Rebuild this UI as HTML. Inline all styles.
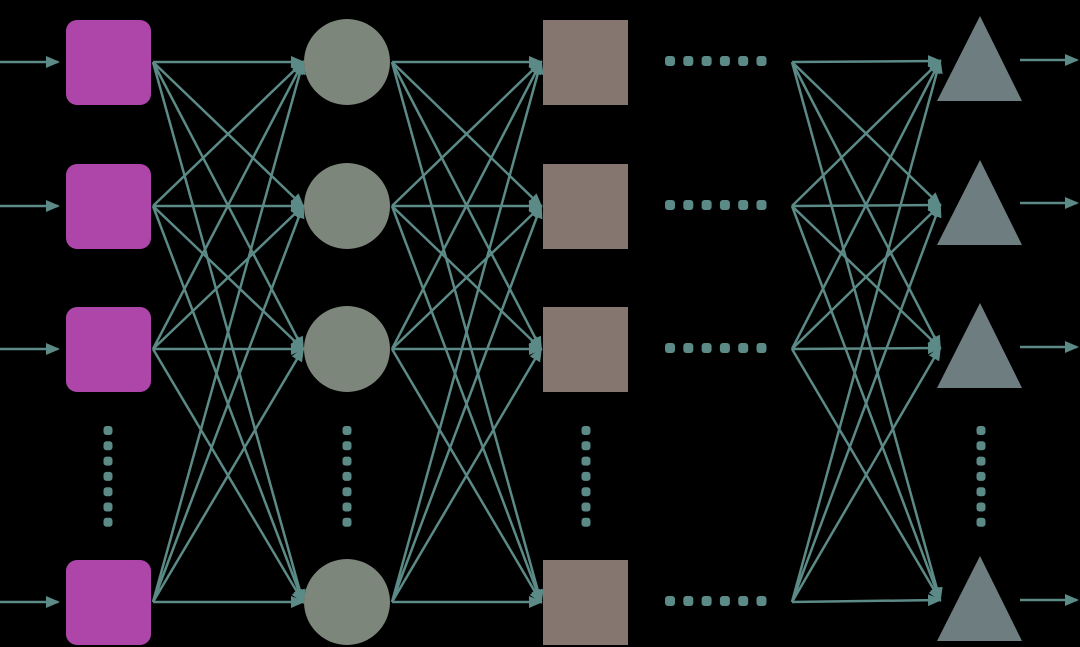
<!DOCTYPE html>
<html><head><meta charset="utf-8"><style>
html,body{margin:0;padding:0;background:#000;width:1080px;height:647px;overflow:hidden}
</style></head><body>
<svg id="s" width="1080" height="647" viewBox="0 0 1080 647" xmlns="http://www.w3.org/2000/svg">
<defs>
<marker id="b" markerWidth="14" markerHeight="14" refX="12" refY="7" orient="auto" markerUnits="userSpaceOnUse" viewBox="0 0 14 14">
<path d="M0,1 L14,7 L0,13 z" fill="#5b8a87"/></marker>
</defs>
<g id="g"></g>
</svg>
<script>
var g=document.getElementById('g'),NS='http://www.w3.org/2000/svg';
function el(t,a){var e=document.createElementNS(NS,t);for(var k in a)e.setAttribute(k,a[k]);g.appendChild(e);return e;}
var R=[62,206,349,602];
var LC='#5b8a87';
function layer(x1,x2,rows2){
  R.forEach(function(y1,i){(rows2||R).forEach(function(y2){
    el('line',{x1:x1,y1:y1,x2:x2,y2:y2,stroke:LC,'stroke-width':2.5,'marker-end':'url(#b)'});});});
}
layer(153,303);
layer(392,541);
layer(792,940,[61,205,348,600]);
R.forEach(function(y){el('line',{x1:0,y1:y,x2:58,y2:y,stroke:LC,'stroke-width':2.5,'marker-end':'url(#b)'});});
[60,203,347,600].forEach(function(y){el('line',{x1:1020,y1:y,x2:1077,y2:y,stroke:LC,'stroke-width':2.5,'marker-end':'url(#b)'});});
R.forEach(function(y){
  el('rect',{x:66,y:y-42,width:85,height:85,rx:11,fill:'#ad46a8'});
  el('circle',{cx:347,cy:y,r:43,fill:'#7d867a'});
  el('rect',{x:543,y:y-42,width:85,height:85,fill:'#85766f'});
});
[16,160,303,556].forEach(function(t){
  el('polygon',{points:'980,'+t+' 1022,'+(t+85)+' 937,'+(t+85),fill:'#6e7d80'});
});
[61,205,348,601].forEach(function(y){
  for(var i=0;i<6;i++)el('rect',{x:665+i*18.3,y:y-5,width:10,height:10,rx:3,fill:'#5b8a87'});
});
[108,347,586,981].forEach(function(x){
  for(var i=0;i<7;i++)el('rect',{x:x-4.5,y:426+i*15.3,width:9,height:9,rx:3,fill:'#5b8a87'});
});
</script>
</body></html>
